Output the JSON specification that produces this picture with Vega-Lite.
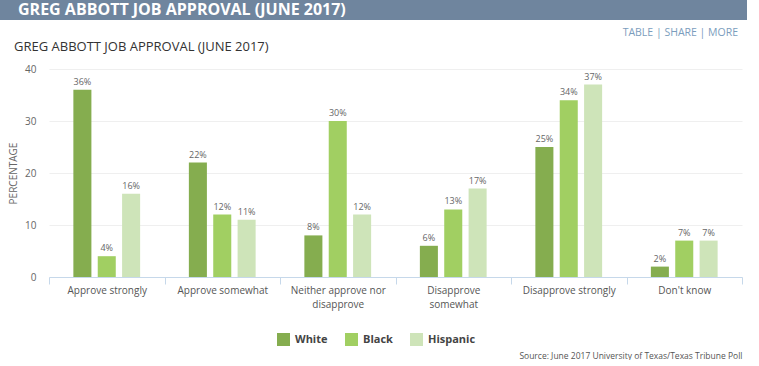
{
  "$schema": "https://vega.github.io/schema/vega-lite/v6.json",
  "padding": 0,
  "background": "white",
  "columns": 1,
  "spacing": 0,
  "bounds": "full",
  "config": {"font": "Open Sans", "view": {"stroke": null}},
  "concat": [
    {
      "width": 747,
      "height": 20,
      "view": {"fill": "#6f859e", "stroke": null},
      "data": {"values": [{"t": ""}]},
      "mark": {"type": "text"},
      "encoding": {"text": {"field": "t"}},
      "title": {"text": "GREG ABBOTT JOB APPROVAL (JUNE 2017)", "orient": "bottom", "anchor": "start", "frame": "group", "offset": -10, "dx": 18, "baseline": "middle", "color": "white", "fontSize": 16, "fontWeight": "bold", "font": "Open Sans"}
    },
    {
      "width": 738,
      "height": 20,
      "data": {"values": [{"t": ""}]},
      "mark": {"type": "text"},
      "encoding": {"text": {"field": "t"}},
      "title": {"text": "TABLE  |  SHARE  |  MORE", "orient": "bottom", "anchor": "end", "frame": "group", "offset": -12, "baseline": "top", "color": "#7b9dbd", "fontSize": 10.5, "fontWeight": "normal", "font": "Open Sans"}
    },
    {
      "width": 742,
      "height": 208,
      "title": {"text": "GREG ABBOTT JOB APPROVAL (JUNE 2017)", "anchor": "start", "frame": "group", "offset": 10.5, "dx": 14, "color": "#333333", "fontSize": 13, "fontWeight": "normal", "font": "Open Sans"},
      "data": {"values": [
        {"cat": "Approve strongly", "race": "White", "pct": 36},
        {"cat": "Approve strongly", "race": "Black", "pct": 4},
        {"cat": "Approve strongly", "race": "Hispanic", "pct": 16},
        {"cat": "Approve somewhat", "race": "White", "pct": 22},
        {"cat": "Approve somewhat", "race": "Black", "pct": 12},
        {"cat": "Approve somewhat", "race": "Hispanic", "pct": 11},
        {"cat": "Neither approve nor disapprove", "race": "White", "pct": 8},
        {"cat": "Neither approve nor disapprove", "race": "Black", "pct": 30},
        {"cat": "Neither approve nor disapprove", "race": "Hispanic", "pct": 12},
        {"cat": "Disapprove somewhat", "race": "White", "pct": 6},
        {"cat": "Disapprove somewhat", "race": "Black", "pct": 13},
        {"cat": "Disapprove somewhat", "race": "Hispanic", "pct": 17},
        {"cat": "Disapprove strongly", "race": "White", "pct": 25},
        {"cat": "Disapprove strongly", "race": "Black", "pct": 34},
        {"cat": "Disapprove strongly", "race": "Hispanic", "pct": 37},
        {"cat": "Don't know", "race": "White", "pct": 2},
        {"cat": "Don't know", "race": "Black", "pct": 7},
        {"cat": "Don't know", "race": "Hispanic", "pct": 7}
      ]},
      "transform": [{"calculate": "datum.pct + '%'", "as": "lbl"}],
      "encoding": {
        "x": {
          "field": "cat", "type": "nominal",
          "sort": ["Approve strongly", "Approve somewhat", "Neither approve nor disapprove", "Disapprove somewhat", "Disapprove strongly", "Don't know"],
          "scale": {"range": [49, 742], "paddingInner": 0, "paddingOuter": 0},
          "axis": {
            "title": "Source: June 2017 University of Texas/Texas Tribune Poll",
            "titleAnchor": "end", "titleFontSize": 8.5, "titleFontWeight": "normal", "titleColor": "#555555", "titleBaseline": "middle", "titleY": 78,
            "labelAngle": 0, "labelFontSize": 10, "labelColor": "#555555", "labelPadding": 1, "labelLineHeight": 14,
            "labelExpr": "datum.label == 'Neither approve nor disapprove' ? ['Neither approve nor', 'disapprove'] : datum.label == 'Disapprove somewhat' ? ['Disapprove', 'somewhat'] : datum.label",
            "domainColor": "#c6d8ea", "tickColor": "#c6d8ea", "tickBand": "extent", "tickSize": 7, "grid": false
          }
        },
        "xOffset": {"field": "race", "type": "nominal", "sort": ["White", "Black", "Hispanic"], "scale": {"paddingInner": 0.26, "paddingOuter": 1.13}},
        "y": {
          "field": "pct", "type": "quantitative",
          "scale": {"domain": [0, 40]},
          "axis": {"values": [0, 10, 20, 30, 40], "offset": -49, "title": "PERCENTAGE", "titleFontSize": 10, "titleFontWeight": "normal", "titleColor": "#666666", "titlePadding": 6,
                   "labelFontSize": 10, "labelColor": "#666666", "labelPadding": 13, "domain": false, "ticks": false, "grid": true, "gridColor": "#efefef"}
        }
      },
      "layer": [
        {
          "mark": {"type": "bar"},
          "encoding": {
            "color": {
              "field": "race", "type": "nominal",
              "scale": {"domain": ["White", "Black", "Hispanic"], "range": ["#85ad4f", "#a1cf62", "#cee4b9"]},
              "legend": {"orient": "none", "legendX": 277, "legendY": 333, "direction": "horizontal", "title": null, "symbolType": "square", "symbolSize": 169, "symbolStrokeWidth": 0, "symbolOpacity": 1, "labelFontSize": 11, "labelFontWeight": "bold", "labelColor": "#444444", "labelOffset": 5, "columnPadding": 17, "padding": 0}
            }
          }
        },
        {
          "mark": {"type": "text", "baseline": "bottom", "dy": -3, "fontSize": 9, "color": "#666666"},
          "encoding": {"text": {"field": "lbl"}}
        }
      ]
    }
  ]
}
